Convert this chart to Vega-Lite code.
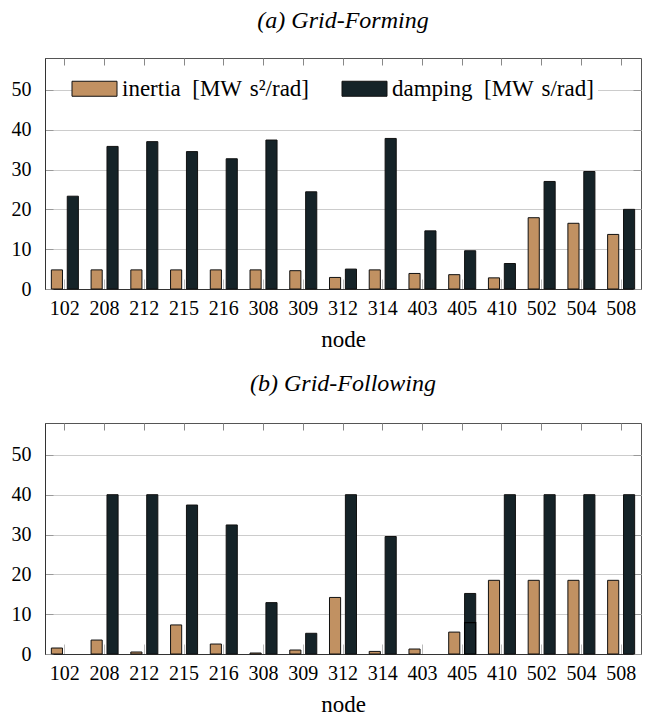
{
  "$schema": "https://vega.github.io/schema/vega-lite/v6.json",
  "padding": {"left": 10, "top": 8, "right": 3, "bottom": 2},
  "config": {
    "font": "Liberation Serif",
    "view": {"stroke": "#555", "strokeWidth": 1},
    "axis": {"labelFont": "Liberation Serif", "titleFont": "Liberation Serif"},
    "title": {"font": "Liberation Serif", "fontStyle": "italic", "fontWeight": "normal", "fontSize": 24, "color": "black", "anchor": "middle", "offset": 25},
    "legend": {
      "orient": "none", "legendX": 34, "legendY": 15, "direction": "horizontal",
      "fillColor": "white", "padding": 4, "symbolType": "M-3,-1H3V1H-3Z", "symbolSize": 225,
      "symbolStrokeColor": "#111", "symbolStrokeWidth": 1, "symbolOpacity": 1,
      "labelFont": "Liberation Serif", "labelFontSize": 23, "labelColor": "black", "labelOffset": 16, "columnPadding": 31,
      "labelLimit": 400, "title": null
    }
  },
  "datasets": {
    "a": [
      {"node": "102", "series": "inertia\u2002[MW\u2004s²/rad]", "value": 4.8},
      {"node": "102", "series": "damping\u2002[MW\u2004s/rad]", "value": 23.3},
      {"node": "208", "series": "inertia\u2002[MW\u2004s²/rad]", "value": 4.8},
      {"node": "208", "series": "damping\u2002[MW\u2004s/rad]", "value": 35.8},
      {"node": "212", "series": "inertia\u2002[MW\u2004s²/rad]", "value": 4.8},
      {"node": "212", "series": "damping\u2002[MW\u2004s/rad]", "value": 37.0},
      {"node": "215", "series": "inertia\u2002[MW\u2004s²/rad]", "value": 4.8},
      {"node": "215", "series": "damping\u2002[MW\u2004s/rad]", "value": 34.5},
      {"node": "216", "series": "inertia\u2002[MW\u2004s²/rad]", "value": 4.8},
      {"node": "216", "series": "damping\u2002[MW\u2004s/rad]", "value": 32.7},
      {"node": "308", "series": "inertia\u2002[MW\u2004s²/rad]", "value": 4.8},
      {"node": "308", "series": "damping\u2002[MW\u2004s/rad]", "value": 37.4},
      {"node": "309", "series": "inertia\u2002[MW\u2004s²/rad]", "value": 4.6},
      {"node": "309", "series": "damping\u2002[MW\u2004s/rad]", "value": 24.4},
      {"node": "312", "series": "inertia\u2002[MW\u2004s²/rad]", "value": 2.9},
      {"node": "312", "series": "damping\u2002[MW\u2004s/rad]", "value": 5.0},
      {"node": "314", "series": "inertia\u2002[MW\u2004s²/rad]", "value": 4.8},
      {"node": "314", "series": "damping\u2002[MW\u2004s/rad]", "value": 37.8},
      {"node": "403", "series": "inertia\u2002[MW\u2004s²/rad]", "value": 3.9},
      {"node": "403", "series": "damping\u2002[MW\u2004s/rad]", "value": 14.6},
      {"node": "405", "series": "inertia\u2002[MW\u2004s²/rad]", "value": 3.6},
      {"node": "405", "series": "damping\u2002[MW\u2004s/rad]", "value": 9.6},
      {"node": "410", "series": "inertia\u2002[MW\u2004s²/rad]", "value": 2.8},
      {"node": "410", "series": "damping\u2002[MW\u2004s/rad]", "value": 6.4},
      {"node": "502", "series": "inertia\u2002[MW\u2004s²/rad]", "value": 17.9},
      {"node": "502", "series": "damping\u2002[MW\u2004s/rad]", "value": 27.0},
      {"node": "504", "series": "inertia\u2002[MW\u2004s²/rad]", "value": 16.5},
      {"node": "504", "series": "damping\u2002[MW\u2004s/rad]", "value": 29.5},
      {"node": "508", "series": "inertia\u2002[MW\u2004s²/rad]", "value": 13.7},
      {"node": "508", "series": "damping\u2002[MW\u2004s/rad]", "value": 20.0}
    ],
    "b": [
      {"node": "102", "series": "inertia\u2002[MW\u2004s²/rad]", "value": 1.5, "layer": "main"},
      {"node": "208", "series": "inertia\u2002[MW\u2004s²/rad]", "value": 3.5, "layer": "main"},
      {"node": "208", "series": "damping\u2002[MW\u2004s/rad]", "value": 40, "layer": "main"},
      {"node": "212", "series": "inertia\u2002[MW\u2004s²/rad]", "value": 0.5, "layer": "main"},
      {"node": "212", "series": "damping\u2002[MW\u2004s/rad]", "value": 40, "layer": "main"},
      {"node": "215", "series": "inertia\u2002[MW\u2004s²/rad]", "value": 7.3, "layer": "main"},
      {"node": "215", "series": "damping\u2002[MW\u2004s/rad]", "value": 37.4, "layer": "main"},
      {"node": "216", "series": "inertia\u2002[MW\u2004s²/rad]", "value": 2.5, "layer": "main"},
      {"node": "216", "series": "damping\u2002[MW\u2004s/rad]", "value": 32.4, "layer": "main"},
      {"node": "308", "series": "inertia\u2002[MW\u2004s²/rad]", "value": 0.25, "layer": "main"},
      {"node": "308", "series": "damping\u2002[MW\u2004s/rad]", "value": 12.9, "layer": "main"},
      {"node": "309", "series": "inertia\u2002[MW\u2004s²/rad]", "value": 1.0, "layer": "main"},
      {"node": "309", "series": "damping\u2002[MW\u2004s/rad]", "value": 5.2, "layer": "main"},
      {"node": "312", "series": "inertia\u2002[MW\u2004s²/rad]", "value": 14.2, "layer": "main"},
      {"node": "312", "series": "damping\u2002[MW\u2004s/rad]", "value": 40, "layer": "main"},
      {"node": "314", "series": "inertia\u2002[MW\u2004s²/rad]", "value": 0.65, "layer": "main"},
      {"node": "314", "series": "damping\u2002[MW\u2004s/rad]", "value": 29.5, "layer": "main"},
      {"node": "403", "series": "inertia\u2002[MW\u2004s²/rad]", "value": 1.25, "layer": "main"},
      {"node": "405", "series": "inertia\u2002[MW\u2004s²/rad]", "value": 5.5, "layer": "main"},
      {"node": "405", "series": "damping\u2002[MW\u2004s/rad]", "value": 15.2, "layer": "main"},
      {"node": "405", "series": "damping\u2002[MW\u2004s/rad]", "value": 7.9, "layer": "overlay"},
      {"node": "410", "series": "inertia\u2002[MW\u2004s²/rad]", "value": 18.5, "layer": "main"},
      {"node": "410", "series": "damping\u2002[MW\u2004s/rad]", "value": 40, "layer": "main"},
      {"node": "502", "series": "inertia\u2002[MW\u2004s²/rad]", "value": 18.5, "layer": "main"},
      {"node": "502", "series": "damping\u2002[MW\u2004s/rad]", "value": 40, "layer": "main"},
      {"node": "504", "series": "inertia\u2002[MW\u2004s²/rad]", "value": 18.5, "layer": "main"},
      {"node": "504", "series": "damping\u2002[MW\u2004s/rad]", "value": 40, "layer": "main"},
      {"node": "508", "series": "inertia\u2002[MW\u2004s²/rad]", "value": 18.5, "layer": "main"},
      {"node": "508", "series": "damping\u2002[MW\u2004s/rad]", "value": 40, "layer": "main"}
    ]
  },
  "spacing": 19,
  "resolve": {"legend": {"color": "independent"}, "scale": {"color": "independent"}},
  "vconcat": [
    {
      "width": 596, "height": 231,
      "title": {"text": "(a) Grid-Forming"},
      "data": {"name": "a"},
      "layer": [
        {
          "mark": {"type": "bar", "stroke": "#111", "strokeWidth": 1},
          "encoding": {
            "x": {"field": "node", "type": "nominal", "title": "node",
              "scale": {"paddingInner": 0.32, "paddingOuter": 0.16},
              "axis": {"orient": "bottom", "labelAngle": 0, "tickSize": -10, "tickColor": "#bbb", "labelPadding": 19, "domainColor": "#333", "labelFontSize": 20, "labelColor": "black", "titleFontSize": 23, "titleFontWeight": "normal", "titleColor": "black", "titlePadding": 10, "grid": false}},
            "xOffset": {"field": "series", "type": "nominal", "scale": {"domain": ["inertia\u2002[MW\u2004s²/rad]", "damping\u2002[MW\u2004s/rad]"], "paddingInner": 0.3, "paddingOuter": 0}},
            "y": {"field": "value", "type": "quantitative", "title": null,
              "scale": {"domain": [0, 58], "nice": false},
              "axis": {"orient": "left", "values": [0, 10, 20, 30, 40, 50], "tickSize": -8, "tickColor": "#999", "labelPadding": 22, "domainColor": "#333", "labelFontSize": 20, "labelColor": "black", "grid": true, "gridColor": "#ccc"}},
            "color": {"field": "series", "type": "nominal",
              "scale": {"domain": ["inertia\u2002[MW\u2004s²/rad]", "damping\u2002[MW\u2004s/rad]"], "range": ["#c19162", "#152328"]}}
          }
        },
        {
          "mark": {"type": "bar", "opacity": 0},
          "encoding": {
            "x": {"field": "node", "type": "nominal", "axis": {"orient": "top", "labels": false, "domain": false, "tickSize": -7, "tickColor": "#888", "title": null, "grid": false}},
            "y": {"field": "value", "type": "quantitative", "axis": {"orient": "right", "values": [0, 10, 20, 30, 40, 50], "labels": false, "domain": false, "tickSize": -8, "tickColor": "#999", "title": null, "grid": false}}
          }
        }
      ],
      "resolve": {"axis": {"x": "independent", "y": "independent"}}
    },
    {
      "width": 596, "height": 231,
      "title": {"text": "(b) Grid-Following"},
      "data": {"name": "b"},
      "layer": [
        {
          "transform": [{"filter": "datum.layer === 'main'"}],
          "mark": {"type": "bar", "stroke": "#111", "strokeWidth": 1},
          "encoding": {
            "x": {"field": "node", "type": "nominal", "title": "node",
              "scale": {"paddingInner": 0.32, "paddingOuter": 0.16},
              "axis": {"orient": "bottom", "labelAngle": 0, "tickSize": -10, "tickColor": "#bbb", "labelPadding": 19, "domainColor": "#333", "labelFontSize": 20, "labelColor": "black", "titleFontSize": 23, "titleFontWeight": "normal", "titleColor": "black", "titlePadding": 10, "grid": false}},
            "xOffset": {"field": "series", "type": "nominal", "scale": {"domain": ["inertia\u2002[MW\u2004s²/rad]", "damping\u2002[MW\u2004s/rad]"], "paddingInner": 0.3, "paddingOuter": 0}},
            "y": {"field": "value", "type": "quantitative", "title": null,
              "scale": {"domain": [0, 58], "nice": false},
              "axis": {"orient": "left", "values": [0, 10, 20, 30, 40, 50], "tickSize": -8, "tickColor": "#999", "labelPadding": 22, "domainColor": "#333", "labelFontSize": 20, "labelColor": "black", "grid": true, "gridColor": "#ccc"}},
            "color": {"field": "series", "type": "nominal",
              "scale": {"domain": ["inertia\u2002[MW\u2004s²/rad]", "damping\u2002[MW\u2004s/rad]"], "range": ["#c19162", "#152328"]}}
          }
        },
        {
          "transform": [{"filter": "datum.layer === 'overlay'"}],
          "mark": {"type": "bar", "stroke": "#000", "strokeWidth": 1.2},
          "encoding": {
            "x": {"field": "node", "type": "nominal", "axis": null},
            "xOffset": {"field": "series", "type": "nominal"},
            "y": {"field": "value", "type": "quantitative", "axis": null},
            "color": {"field": "series", "type": "nominal", "legend": null}
          }
        },
        {
          "mark": {"type": "bar", "opacity": 0},
          "encoding": {
            "x": {"field": "node", "type": "nominal", "axis": {"orient": "top", "labels": false, "domain": false, "tickSize": -7, "tickColor": "#888", "title": null, "grid": false}},
            "y": {"field": "value", "type": "quantitative", "axis": {"orient": "right", "values": [0, 10, 20, 30, 40, 50], "labels": false, "domain": false, "tickSize": -8, "tickColor": "#999", "title": null, "grid": false}}
          }
        }
      ],
      "resolve": {"axis": {"x": "independent", "y": "independent"}}
    }
  ]
}
